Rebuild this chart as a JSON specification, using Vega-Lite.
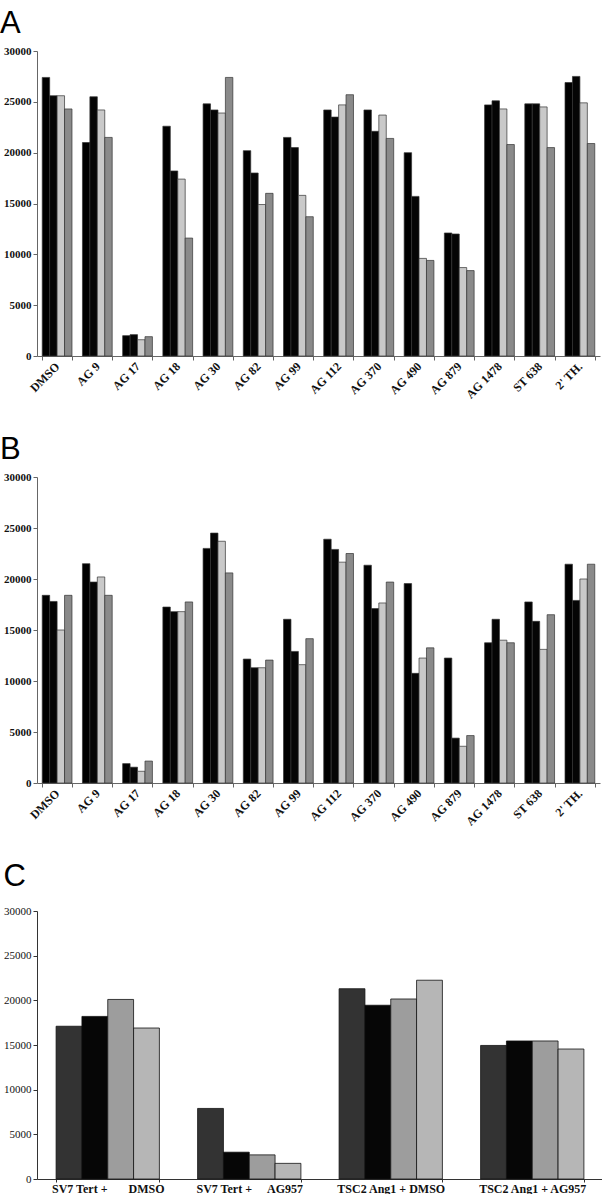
{
  "$schema": "https://vega.github.io/schema/vega-lite/v6.json",
  "padding": {"left": 0, "top": 8, "right": 0, "bottom": 0},
  "autosize": {"type": "pad"},
  "background": "white",
  "spacing": 33,
  "resolve": {"scale": {"x": "independent", "xOffset": "independent", "y": "independent", "color": "independent"}, "axis": {"x": "independent", "y": "independent"}},
  "config": {
    "view": {"stroke": null},
    "axis": {"grid": false, "title": null, "domainColor": "#666666", "tickColor": "#666666", "labelColor": "#111111"}
  },
  "datasets": {
    "A": [
      {"cat": "DMSO", "s": "1", "v": 27400}, {"cat": "DMSO", "s": "2", "v": 25600}, {"cat": "DMSO", "s": "3", "v": 25600}, {"cat": "DMSO", "s": "4", "v": 24300},
      {"cat": "AG 9", "s": "1", "v": 21000}, {"cat": "AG 9", "s": "2", "v": 25500}, {"cat": "AG 9", "s": "3", "v": 24200}, {"cat": "AG 9", "s": "4", "v": 21500},
      {"cat": "AG 17", "s": "1", "v": 2000}, {"cat": "AG 17", "s": "2", "v": 2100}, {"cat": "AG 17", "s": "3", "v": 1600}, {"cat": "AG 17", "s": "4", "v": 1900},
      {"cat": "AG 18", "s": "1", "v": 22600}, {"cat": "AG 18", "s": "2", "v": 18200}, {"cat": "AG 18", "s": "3", "v": 17400}, {"cat": "AG 18", "s": "4", "v": 11600},
      {"cat": "AG 30", "s": "1", "v": 24800}, {"cat": "AG 30", "s": "2", "v": 24200}, {"cat": "AG 30", "s": "3", "v": 23900}, {"cat": "AG 30", "s": "4", "v": 27400},
      {"cat": "AG 82", "s": "1", "v": 20200}, {"cat": "AG 82", "s": "2", "v": 18000}, {"cat": "AG 82", "s": "3", "v": 14900}, {"cat": "AG 82", "s": "4", "v": 16000},
      {"cat": "AG 99", "s": "1", "v": 21500}, {"cat": "AG 99", "s": "2", "v": 20500}, {"cat": "AG 99", "s": "3", "v": 15800}, {"cat": "AG 99", "s": "4", "v": 13700},
      {"cat": "AG 112", "s": "1", "v": 24200}, {"cat": "AG 112", "s": "2", "v": 23500}, {"cat": "AG 112", "s": "3", "v": 24700}, {"cat": "AG 112", "s": "4", "v": 25700},
      {"cat": "AG 370", "s": "1", "v": 24200}, {"cat": "AG 370", "s": "2", "v": 22100}, {"cat": "AG 370", "s": "3", "v": 23700}, {"cat": "AG 370", "s": "4", "v": 21400},
      {"cat": "AG 490", "s": "1", "v": 20000}, {"cat": "AG 490", "s": "2", "v": 15700}, {"cat": "AG 490", "s": "3", "v": 9600}, {"cat": "AG 490", "s": "4", "v": 9400},
      {"cat": "AG 879", "s": "1", "v": 12100}, {"cat": "AG 879", "s": "2", "v": 12000}, {"cat": "AG 879", "s": "3", "v": 8700}, {"cat": "AG 879", "s": "4", "v": 8400},
      {"cat": "AG 1478", "s": "1", "v": 24700}, {"cat": "AG 1478", "s": "2", "v": 25100}, {"cat": "AG 1478", "s": "3", "v": 24300}, {"cat": "AG 1478", "s": "4", "v": 20800},
      {"cat": "ST 638", "s": "1", "v": 24800}, {"cat": "ST 638", "s": "2", "v": 24800}, {"cat": "ST 638", "s": "3", "v": 24500}, {"cat": "ST 638", "s": "4", "v": 20500},
      {"cat": "2' TH.", "s": "1", "v": 26900}, {"cat": "2' TH.", "s": "2", "v": 27500}, {"cat": "2' TH.", "s": "3", "v": 24900}, {"cat": "2' TH.", "s": "4", "v": 20900}
    ],
    "B": [
      {"cat": "DMSO", "s": "1", "v": 18400}, {"cat": "DMSO", "s": "2", "v": 17800}, {"cat": "DMSO", "s": "3", "v": 15000}, {"cat": "DMSO", "s": "4", "v": 18400},
      {"cat": "AG 9", "s": "1", "v": 21500}, {"cat": "AG 9", "s": "2", "v": 19700}, {"cat": "AG 9", "s": "3", "v": 20200}, {"cat": "AG 9", "s": "4", "v": 18400},
      {"cat": "AG 17", "s": "1", "v": 1900}, {"cat": "AG 17", "s": "2", "v": 1550}, {"cat": "AG 17", "s": "3", "v": 1150}, {"cat": "AG 17", "s": "4", "v": 2150},
      {"cat": "AG 18", "s": "1", "v": 17250}, {"cat": "AG 18", "s": "2", "v": 16800}, {"cat": "AG 18", "s": "3", "v": 16800}, {"cat": "AG 18", "s": "4", "v": 17750},
      {"cat": "AG 30", "s": "1", "v": 23000}, {"cat": "AG 30", "s": "2", "v": 24500}, {"cat": "AG 30", "s": "3", "v": 23700}, {"cat": "AG 30", "s": "4", "v": 20600},
      {"cat": "AG 82", "s": "1", "v": 12150}, {"cat": "AG 82", "s": "2", "v": 11300}, {"cat": "AG 82", "s": "3", "v": 11300}, {"cat": "AG 82", "s": "4", "v": 12050},
      {"cat": "AG 99", "s": "1", "v": 16050}, {"cat": "AG 99", "s": "2", "v": 12900}, {"cat": "AG 99", "s": "3", "v": 11600}, {"cat": "AG 99", "s": "4", "v": 14150},
      {"cat": "AG 112", "s": "1", "v": 23900}, {"cat": "AG 112", "s": "2", "v": 22900}, {"cat": "AG 112", "s": "3", "v": 21650}, {"cat": "AG 112", "s": "4", "v": 22500},
      {"cat": "AG 370", "s": "1", "v": 21350}, {"cat": "AG 370", "s": "2", "v": 17100}, {"cat": "AG 370", "s": "3", "v": 17650}, {"cat": "AG 370", "s": "4", "v": 19700},
      {"cat": "AG 490", "s": "1", "v": 19550}, {"cat": "AG 490", "s": "2", "v": 10750}, {"cat": "AG 490", "s": "3", "v": 12250}, {"cat": "AG 490", "s": "4", "v": 13250},
      {"cat": "AG 879", "s": "1", "v": 12250}, {"cat": "AG 879", "s": "2", "v": 4400}, {"cat": "AG 879", "s": "3", "v": 3600}, {"cat": "AG 879", "s": "4", "v": 4650},
      {"cat": "AG 1478", "s": "1", "v": 13750}, {"cat": "AG 1478", "s": "2", "v": 16050}, {"cat": "AG 1478", "s": "3", "v": 14000}, {"cat": "AG 1478", "s": "4", "v": 13750},
      {"cat": "ST 638", "s": "1", "v": 17750}, {"cat": "ST 638", "s": "2", "v": 15850}, {"cat": "ST 638", "s": "3", "v": 13100}, {"cat": "ST 638", "s": "4", "v": 16500},
      {"cat": "2' TH.", "s": "1", "v": 21450}, {"cat": "2' TH.", "s": "2", "v": 17900}, {"cat": "2' TH.", "s": "3", "v": 20000}, {"cat": "2' TH.", "s": "4", "v": 21450}
    ],
    "C": [
      {"cat": "SV7 Tert +\u00a0\u00a0\u00a0\u00a0\u00a0\u00a0\u00a0DMSO", "s": "1", "v": 17100}, {"cat": "SV7 Tert +\u00a0\u00a0\u00a0\u00a0\u00a0\u00a0\u00a0DMSO", "s": "2", "v": 18200}, {"cat": "SV7 Tert +\u00a0\u00a0\u00a0\u00a0\u00a0\u00a0\u00a0DMSO", "s": "3", "v": 20100}, {"cat": "SV7 Tert +\u00a0\u00a0\u00a0\u00a0\u00a0\u00a0\u00a0DMSO", "s": "4", "v": 16900},
      {"cat": "SV7 Tert +\u00a0\u00a0\u00a0\u00a0\u00a0AG957", "s": "1", "v": 7900}, {"cat": "SV7 Tert +\u00a0\u00a0\u00a0\u00a0\u00a0AG957", "s": "2", "v": 3000}, {"cat": "SV7 Tert +\u00a0\u00a0\u00a0\u00a0\u00a0AG957", "s": "3", "v": 2700}, {"cat": "SV7 Tert +\u00a0\u00a0\u00a0\u00a0\u00a0AG957", "s": "4", "v": 1750},
      {"cat": "TSC2 Ang1 + DMSO", "s": "1", "v": 21300}, {"cat": "TSC2 Ang1 + DMSO", "s": "2", "v": 19450}, {"cat": "TSC2 Ang1 + DMSO", "s": "3", "v": 20150}, {"cat": "TSC2 Ang1 + DMSO", "s": "4", "v": 22250},
      {"cat": "TSC2 Ang1 + AG957", "s": "1", "v": 14950}, {"cat": "TSC2 Ang1 + AG957", "s": "2", "v": 15450}, {"cat": "TSC2 Ang1 + AG957", "s": "3", "v": 15450}, {"cat": "TSC2 Ang1 + AG957", "s": "4", "v": 14550}
    ]
  },
  "vconcat": [
    {
      "title": {"text": "A", "anchor": "start", "frame": "bounds", "font": "Liberation Sans", "fontSize": 31, "fontWeight": "normal", "color": "#000000", "offset": 5},
      "width": 563, "height": 305,
      "data": {"name": "A"},
      "mark": {"type": "bar", "stroke": "#333333", "strokeWidth": 0.7},
      "encoding": {
        "x": {"field": "cat", "type": "nominal", "sort": null,
              "scale": {"paddingInner": 0.26, "paddingOuter": 0.13},
              "axis": {"labelAngle": 315, "labelAlign": "right", "labelBaseline": "middle", "labelFont": "Liberation Serif", "labelFontWeight": "bold", "labelFontSize": 12, "tickBand": "extent", "tickSize": 4, "labelPadding": 4}},
        "xOffset": {"field": "s", "type": "nominal", "scale": {"paddingInner": 0, "paddingOuter": 0}},
        "y": {"field": "v", "type": "quantitative", "scale": {"domain": [0, 30000], "nice": false},
              "axis": {"values": [0, 5000, 10000, 15000, 20000, 25000, 30000], "format": "d", "labelFont": "Liberation Serif", "labelFontWeight": "bold", "labelFontSize": 11, "tickSize": 4, "labelPadding": 2, "labelFlush": false, "minExtent": 37, "maxExtent": 37}},
        "color": {"field": "s", "type": "nominal", "scale": {"domain": ["1", "2", "3", "4"], "range": ["#000000", "#050505", "#c9c9c9", "#8a8a8a"]}, "legend": null}
      }
    },
    {
      "title": {"text": "B", "anchor": "start", "frame": "bounds", "font": "Liberation Sans", "fontSize": 31, "fontWeight": "normal", "color": "#000000", "offset": 5},
      "width": 563, "height": 306,
      "data": {"name": "B"},
      "mark": {"type": "bar", "stroke": "#333333", "strokeWidth": 0.7},
      "encoding": {
        "x": {"field": "cat", "type": "nominal", "sort": null,
              "scale": {"paddingInner": 0.26, "paddingOuter": 0.13},
              "axis": {"labelAngle": 315, "labelAlign": "right", "labelBaseline": "middle", "labelFont": "Liberation Serif", "labelFontWeight": "bold", "labelFontSize": 12, "tickBand": "extent", "tickSize": 4, "labelPadding": 4}},
        "xOffset": {"field": "s", "type": "nominal", "scale": {"paddingInner": 0, "paddingOuter": 0}},
        "y": {"field": "v", "type": "quantitative", "scale": {"domain": [0, 30000], "nice": false},
              "axis": {"values": [0, 5000, 10000, 15000, 20000, 25000, 30000], "format": "d", "labelFont": "Liberation Serif", "labelFontWeight": "bold", "labelFontSize": 11, "tickSize": 4, "labelPadding": 2, "labelFlush": false, "minExtent": 37, "maxExtent": 37}},
        "color": {"field": "s", "type": "nominal", "scale": {"domain": ["1", "2", "3", "4"], "range": ["#000000", "#050505", "#c9c9c9", "#8a8a8a"]}, "legend": null}
      }
    },
    {
      "title": {"text": "C", "anchor": "start", "frame": "bounds", "font": "Liberation Sans", "fontSize": 31, "fontWeight": "normal", "color": "#000000", "offset": 12},
      "width": 566, "height": 268,
      "data": {"name": "C"},
      "mark": {"type": "bar", "stroke": "#111111", "strokeWidth": 0.8},
      "encoding": {
        "x": {"field": "cat", "type": "nominal", "sort": null,
              "scale": {"paddingInner": 0.27, "paddingOuter": 0.135},
              "axis": {"labelAngle": 0, "labelFont": "Liberation Serif", "labelFontWeight": "bold", "labelFontSize": 12, "tickBand": "extent", "tickSize": 3, "labelPadding": 1, "domainColor": "#333333", "tickColor": "#333333"}},
        "xOffset": {"field": "s", "type": "nominal", "scale": {"paddingInner": 0, "paddingOuter": 0}},
        "y": {"field": "v", "type": "quantitative", "scale": {"domain": [0, 30000], "nice": false},
              "axis": {"values": [0, 5000, 10000, 15000, 20000, 25000, 30000], "format": "d", "labelFont": "Liberation Serif", "labelFontWeight": "normal", "labelFontSize": 11, "tickSize": 4, "labelPadding": 2, "labelFlush": false, "minExtent": 33, "maxExtent": 33, "domainColor": "#333333", "tickColor": "#333333"}},
        "color": {"field": "s", "type": "nominal", "scale": {"domain": ["1", "2", "3", "4"], "range": ["#333333", "#060606", "#9d9d9d", "#b6b6b6"]}, "legend": null}
      }
    }
  ]
}
